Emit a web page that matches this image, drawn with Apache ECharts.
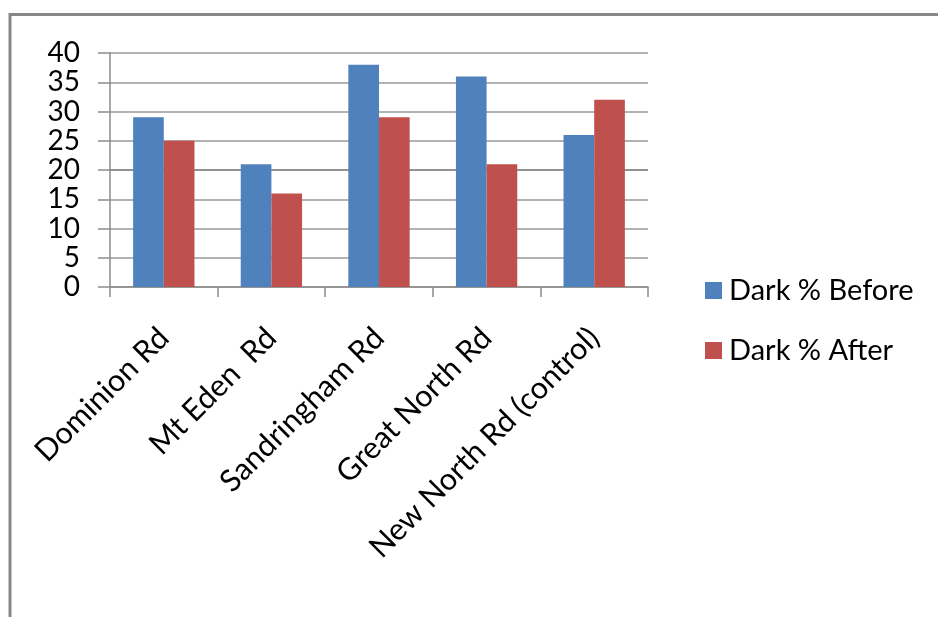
<!DOCTYPE html>
<html>
<head>
<meta charset="utf-8">
<script src="https://cdn.jsdelivr.net/npm/echarts@6/dist/echarts.min.js"></script>
<style>html,body{margin:0;padding:0;background:#fff;}#c{width:938px;height:617px;}</style>
</head>
<body>
<div id="c"></div>
<script>
const categories = ['Dominion Rd', 'Mt Eden  Rd', 'Sandringham Rd', 'Great North Rd', 'New North Rd (control)'];
const seriesNames = ['Dark % Before', 'Dark % After'];
const darkBefore = [29, 21, 38, 36, 26];
const darkAfter = [25, 16, 29, 21, 32];
const yTicks = { min: 0, max: 40, interval: 5 };

const FONT = 'Lato';
const chart = echarts.init(document.getElementById('c'), null, { renderer: 'canvas' });
chart.setOption({
  backgroundColor: '#fff',
  animation: false,
  textStyle: { fontFamily: FONT },
  graphic: [
    { type: 'line', shape: { x1: 9, y1: 14.5, x2: 938, y2: 14.5 }, style: { stroke: '#878787', lineWidth: 3 } },
    { type: 'line', shape: { x1: 10, y1: 13, x2: 10, y2: 617 }, style: { stroke: '#878787', lineWidth: 3 } }
  ],
  grid: { left: 110, right: 290, top: 53, bottom: 330, containLabel: false },
  legend: {
    orient: 'vertical',
    left: 700,
    top: 271,
    itemWidth: 17,
    itemHeight: 17,
    itemGap: 31,
    icon: 'rect',
    textStyle: { fontFamily: FONT, fontSize: 29, color: '#000', padding: [0, 0, 0, 2] },
    data: seriesNames
  },
  xAxis: {
    type: 'category',
    data: categories,
    boundaryGap: true,
    axisLine: { lineStyle: { color: '#8c8c8c', width: 1.5 } },
    axisTick: { show: true, length: 10, lineStyle: { color: '#8c8c8c', width: 1.5 } },
    axisLabel: {
      rotate: 45,
      interval: 0,
      margin: 46,
      fontFamily: FONT,
      fontSize: 30.5,
      color: '#000'
    }
  },
  yAxis: {
    type: 'value',
    min: yTicks.min,
    max: yTicks.max,
    interval: yTicks.interval,
    axisLine: { show: true, lineStyle: { color: '#8c8c8c', width: 1.5 } },
    axisTick: { show: true, length: 12, lineStyle: { color: '#8c8c8c', width: 1.5 } },
    splitLine: { show: true, lineStyle: { color: ['#999', '#999', '#999', '#999', '#6e6e6e', '#999', '#999', '#999', '#999'], width: 1.5 } },
    axisLabel: { margin: 30, fontFamily: FONT, fontSize: 28, color: '#000' }
  },
  series: [
    { name: seriesNames[0], type: 'bar', data: darkBefore, barGap: '0%', barCategoryGap: '43%',
      itemStyle: { color: '#4F81BD' } },
    { name: seriesNames[1], type: 'bar', data: darkAfter, barGap: '0%', barCategoryGap: '43%',
      itemStyle: { color: '#C0504D' } }
  ]
});
</script>
</body>
</html>
